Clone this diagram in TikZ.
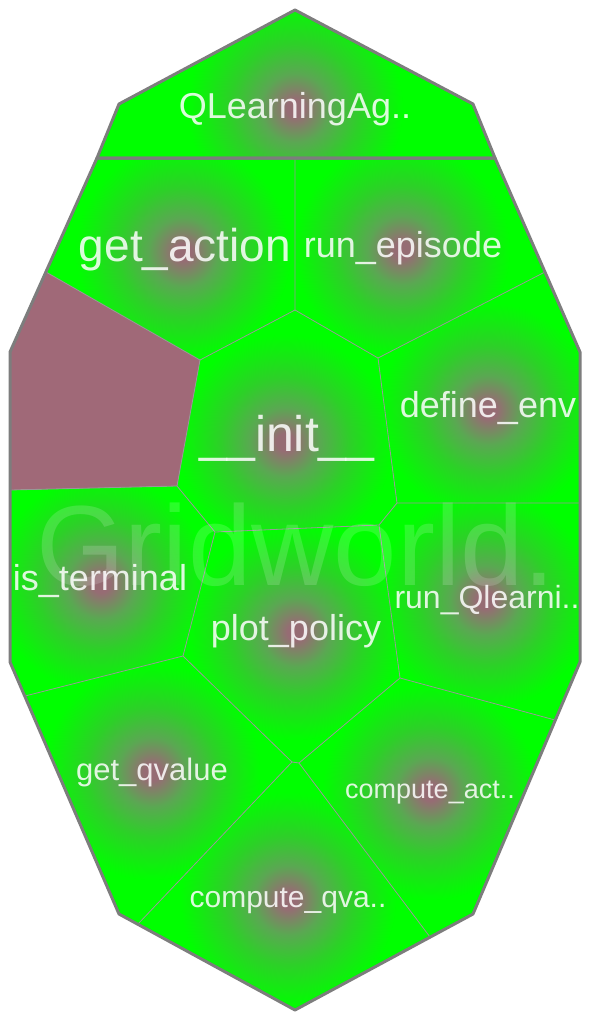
\documentclass[tikz,border=0pt]{standalone}
\usepackage{fontspec}
\setmainfont{Liberation Sans}
\usepackage{xcolor}
\usepackage{tikz}
\usetikzlibrary{shapes.geometric, positioning}

\definecolor{leafgreen}{RGB}{0,255,0}
\definecolor{glowcore}{RGB}{150,108,116}
\definecolor{glowmid}{RGB}{90,168,82}
\definecolor{glowrim}{RGB}{45,208,40}
\definecolor{emptycell}{RGB}{160,105,120}
\definecolor{edgegrey}{RGB}{125,125,125}
\definecolor{edgelight}{RGB}{152,152,152}
\pgfdeclareradialshading{cellglow}{\pgfpoint{0bp}{0bp}}{color(0bp)=(glowcore); color(2bp)=(glowcore); color(8bp)=(glowmid); color(15bp)=(glowrim); color(25bp)=(leafgreen); color(50bp)=(leafgreen)}

\newcommand{\leafcell}[2]{%
  \fill[leafgreen] #1 -- cycle;
  \begin{scope}
    \clip #1 -- cycle;
    \shade[shading=cellglow] #2 circle (108pt);
  \end{scope}}

\begin{document}
\begin{tikzpicture}[x=1pt, y=-1pt,
  every node/.style={inner sep=0pt, anchor=base, text=white, text opacity=0.85},
  celledge/.style={draw=edgelight, line width=0.8pt},
  rootedge/.style={draw=edgegrey, line width=3pt, line join=round}]
  \useasboundingbox (0,0) rectangle (592,1020);

  \coordinate (T0) at (295,10);
  \coordinate (T1) at (119,104);
  \coordinate (T2) at (473,104);
  \coordinate (L0) at (97,158);
  \coordinate (R0) at (495,158);
  \coordinate (L1) at (10,352);
  \coordinate (R1) at (580,352);
  \coordinate (L2) at (10,662);
  \coordinate (R2) at (580,662);
  \coordinate (B1) at (119,914);
  \coordinate (B2) at (473,914);
  \coordinate (B0) at (295,1010);

  \coordinate (a) at (295,158);
  \coordinate (b) at (295,310);
  \coordinate (c) at (46,272);
  \coordinate (d) at (200,360);
  \coordinate (e) at (378,358);
  \coordinate (f) at (545,272);
  \coordinate (g) at (177,486);
  \coordinate (h) at (10,490);
  \coordinate (i) at (215,532);
  \coordinate (j) at (379,525);
  \coordinate (k) at (397,503);
  \coordinate (l) at (580,503);
  \coordinate (m) at (183,656);
  \coordinate (n) at (25,696);
  \coordinate (o) at (292,762);
  \coordinate (p) at (299,763);
  \coordinate (q) at (400,678);
  \coordinate (r) at (555,720);
  \coordinate (s) at (138,924);
  \coordinate (t) at (430,937);

  \leafcell{(T0) -- (T1) -- (L0) -- (R0) -- (T2)}{(295,108)}
  \leafcell{(L0) -- (a) -- (b) -- (d) -- (c)}{(183,252)}
  \leafcell{(a) -- (R0) -- (f) -- (e) -- (b)}{(402,250)}
  \leafcell{(d) -- (b) -- (e) -- (k) -- (j) -- (i) -- (g)}{(285,442)}
  \leafcell{(e) -- (f) -- (R1) -- (l) -- (k)}{(488,410)}
  \leafcell{(h) -- (g) -- (i) -- (m) -- (n) -- (L2)}{(101,584)}
  \leafcell{(i) -- (j) -- (q) -- (p) -- (o) -- (m)}{(296,632)}
  \leafcell{(k) -- (l) -- (R2) -- (r) -- (q) -- (j)}{(485,600)}
  \leafcell{(n) -- (m) -- (o) -- (s) -- (B1)}{(152,772)}
  \leafcell{(s) -- (o) -- (p) -- (t) -- (B0)}{(288,900)}
  \leafcell{(p) -- (q) -- (r) -- (B2) -- (t)}{(430,792)}
  \fill[emptycell] (c) -- (d) -- (g) -- (h) -- (L1) -- cycle;

  \draw[celledge] (a) -- (b) -- (d) -- (c);
  \draw[celledge] (b) -- (e) -- (f);
  \draw[celledge] (d) -- (g) -- (h);
  \draw[celledge] (e) -- (k) -- (l);
  \draw[celledge] (g) -- (i) -- (j) -- (k);
  \draw[celledge] (i) -- (m) -- (n);
  \draw[celledge] (j) -- (q) -- (r);
  \draw[celledge] (m) -- (o) -- (s);
  \draw[celledge] (o) -- (p) -- (q);
  \draw[celledge] (p) -- (t);
  \draw[rootedge] (T0) -- (T1) -- (L0) -- (R0) -- (T2) -- cycle;
  \draw[rootedge] (L0) -- (R0) -- (R1) -- (R2) -- (B2) -- (B0) -- (B1) -- (L2) -- (L1) -- cycle;

  \node (watermark) at (296,585) [font=\fontsize{114}{114}\selectfont, text opacity=0.16] {Gridworld.};

  \node (agent) at (295,118) [font=\fontsize{36}{36}\selectfont] {QLearningAg..};
  \node (getaction) at (185,261) [font=\fontsize{46}{46}\selectfont] {get\_action};
  \node (runepisode) at (403,257) [font=\fontsize{36}{36}\selectfont] {run\_episode};
  \node (init) at (287,451) [font=\fontsize{50}{50}\selectfont] {\_\_init\_\_};
  \node (defineenv) at (488,417) [font=\fontsize{36}{36}\selectfont] {define\_env};
  \node (isterminal) at (100,590) [font=\fontsize{36}{36}\selectfont] {is\_terminal};
  \node (plotpolicy) at (296,640) [font=\fontsize{36}{36}\selectfont] {plot\_policy};
  \node (runql) at (487,608) [font=\fontsize{32}{32}\selectfont] {run\_Qlearni..};
  \node (getqvalue) at (152,780) [font=\fontsize{31}{31}\selectfont] {get\_qvalue};
  \node (computeact) at (430,798) [font=\fontsize{27}{27}\selectfont] {compute\_act..};
  \node (computeqva) at (288,907) [font=\fontsize{30}{30}\selectfont] {compute\_qva..};
\end{tikzpicture}
\end{document}
